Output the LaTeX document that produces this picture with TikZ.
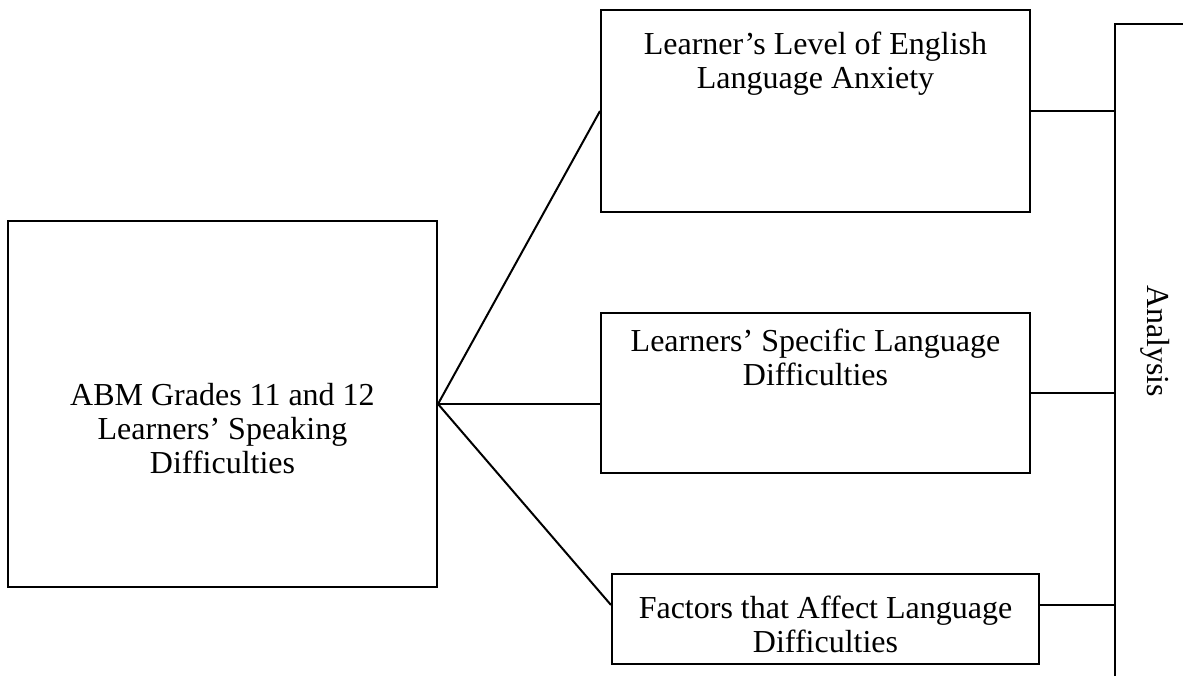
\documentclass[tikz,border=0pt]{standalone}
\usepackage{fontspec}
\setmainfont{Liberation Serif}
\usetikzlibrary{calc}
% text set at the top of a box: width, height, gap above, text
\newcommand{\boxtext}[4]{\parbox[c][#2][t]{#1}{\centering\vspace*{#3}#4}}

\begin{document}
\begin{tikzpicture}[
  x=0.5pt, y=-0.5pt,
  font=\fontsize{16}{17}\selectfont,
  box/.style={draw, line width=1pt, inner sep=0pt},
  link/.style={line width=1pt},
]
\useasboundingbox (0,0) rectangle (1183,676);

% ---- boxes ----
\node[box] (abm) at (222.5,404)
  {\boxtext{214.5pt}{183pt}{81pt}{ABM Grades 11 and 12\\Learners’ Speaking\\Difficulties}};

\node[box] (anxiety) at (815.5,111)
  {\boxtext{214.5pt}{101pt}{11pt}{Learner’s Level of English\\Language Anxiety}};

\node[box] (specific) at (815.5,393)
  {\boxtext{214.5pt}{80pt}{8pt}{Learners’ Specific Language\\Difficulties}};

\node[box] (factors) at (825.5,619)
  {\boxtext{213.5pt}{45pt}{11pt}{Factors that Affect Language\\Difficulties}};

% ---- analysis column (runs off the page) ----
\coordinate (ana) at (1115,24);
\draw[link] (ana |- 0,676) -- (ana) -- (1183,24);
\node[rotate=-90] (analysis) at (1155,341) {Analysis};

% ---- connectors ----
\draw[link] (abm.east) -- (anxiety.west);
\draw[link] (abm.east) -- (abm.east -| specific.west);
\draw[link] (abm.east) -- ($(factors.west)+(0,-14)$);

\draw[link] (anxiety.east) -- (anxiety.east -| ana);
\draw[link] (specific.east) -- (specific.east -| ana);
\draw[link] ($(factors.east)+(0,-14)$) -- ($(factors.east -| ana)+(0,-14)$);

\end{tikzpicture}
\end{document}
